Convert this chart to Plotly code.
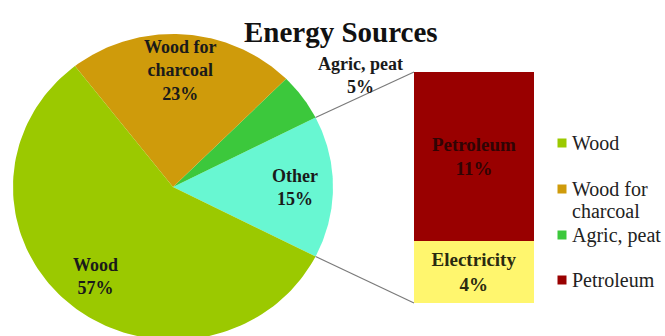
import numpy as np
import plotly.graph_objects as go

# ---------------- data ----------------
pie_labels = ["Other", "Agric, peat", "Wood for charcoal", "Wood"]
pie_text = ["Other", "Agric, peat", "Wood for<br>charcoal", "Wood"]
pie_values = [15, 5, 23, 57]
pie_colors = ["#68F7D2", "#3CC83C", "#CF9B0B", "#9BC900"]

bar_labels = ["Electricity", "Petroleum"]
bar_values = [4, 11]
bar_colors = ["#FFF66E", "#990000"]
bar_text_colors = ["#2a2a10", "#300404"]

legend_labels = ["Wood", "Wood for<br>charcoal", "Agric, peat", "Petroleum"]
legend_colors = ["#9BC900", "#CF9B0B", "#3CC83C", "#990000"]

title_text = "Energy Sources"

# ---------------- layout geometry (pixels) ----------------
W, H = 665, 336
cx, cy = 173, 187          # pie centre
rx, ry = 160, 153          # pie radii (stretched pie)
bx0, bx1 = 414, 534        # bar box left / right
by_top, by_bot = 72, 303   # bar box top / bottom
FONT = "'Liberation Serif', 'DejaVu Serif', serif"

fig = go.Figure()

# ---- pie wedges, computed from the values ----
total = float(sum(pie_values))
start = -pie_values[0] / total * 180.0
angles = [start]
for v in pie_values:
    angles.append(angles[-1] + v / total * 360.0)

def ell(a_deg, r=1.0):
    a = np.radians(a_deg)
    return cx + r * rx * np.cos(a), cy - r * ry * np.sin(a)

for i, (lab, v, col) in enumerate(zip(pie_labels, pie_values, pie_colors)):
    t = np.linspace(angles[i], angles[i + 1], 120)
    px, py = ell(t)
    xs = np.concatenate([[cx], px, [cx]])
    ys = np.concatenate([[cy], py, [cy]])
    fig.add_trace(go.Scatter(x=xs, y=ys, mode="lines", fill="toself",
                             fillcolor=col, line=dict(width=0, color=col),
                             name=lab, showlegend=False, hoverinfo="skip",
                             xaxis="x", yaxis="y"))

# ---- connector lines from "Other" slice edges to bar corners ----
p_top = ell(angles[1])
p_bot = ell(angles[0])
fig.add_trace(go.Scatter(x=[p_top[0], bx0], y=[p_top[1], by_top], mode="lines",
                         line=dict(color="#7a7a7a", width=1.2), showlegend=False,
                         hoverinfo="skip"))
fig.add_trace(go.Scatter(x=[p_bot[0], bx0], y=[p_bot[1], by_bot], mode="lines",
                         line=dict(color="#7a7a7a", width=1.2), showlegend=False,
                         hoverinfo="skip"))

# ---- stacked bar (breakdown of "Other") ----
for lab, v, col, tc in zip(bar_labels, bar_values, bar_colors, bar_text_colors):
    fig.add_trace(go.Bar(x=[0], y=[v], width=1, marker=dict(color=col, line=dict(width=0)),
                         text=[f"<b>{lab}</b><br><b>{v}%</b>"], textposition="inside",
                         insidetextanchor="middle", textangle=0,
                         textfont=dict(family=FONT, size=19, color=tc),
                         constraintext="none",
                         showlegend=False, hoverinfo="skip", xaxis="x2", yaxis="y2"))

annotations = []
# ---- pie data labels ----
for i, (txt, v) in enumerate(zip(pie_text, pie_values)):
    mid = (angles[i] + angles[i + 1]) / 2
    if pie_labels[i] == "Agric, peat":
        lx, ly = ell(32, 1.38)
    else:
        lx, ly = ell(mid, 0.76)
    lines = txt.split("<br>") + [f"{v}%"]
    annotations.append(dict(x=lx, y=ly, xref="x", yref="y", showarrow=False,
                            text="<br>".join(f"<b>{s}</b>" for s in lines), align="center",
                            font=dict(family=FONT, size=18, color="#1a1a1a"),
                            xanchor="center", yanchor="middle"))

# ---- title ----
annotations.append(dict(x=341, y=32, xref="x", yref="y", showarrow=False,
                        text=f"<b>{title_text}</b>",
                        font=dict(family=FONT, size=29, color="#111111"),
                        xanchor="center", yanchor="middle"))

# ---- legend ----
legend_y = [143, 189, 235, 280]
legend_line_gap = 22
shapes = []
for lab, col, ly in zip(legend_labels, legend_colors, legend_y):
    shapes.append(dict(type="rect", xref="x", yref="y", x0=557.5, x1=566.5,
                       y0=ly - 4.5, y1=ly + 4.5, fillcolor=col, line=dict(width=0)))
    for k, part in enumerate(lab.split("<br>")):
        annotations.append(dict(x=570, y=ly + k * legend_line_gap, xref="x", yref="y",
                                showarrow=False, text=part, align="left",
                                font=dict(family=FONT, size=20, color="#222222"),
                                xanchor="left", yanchor="middle"))

fig.update_layout(
    width=W, height=H, margin=dict(l=0, r=0, t=0, b=0),
    paper_bgcolor="white", plot_bgcolor="white",
    font=dict(family=FONT),
    barmode="stack", bargap=0,
    xaxis=dict(range=[0, W], visible=False, domain=[0, 1], fixedrange=True),
    yaxis=dict(range=[H, 0], visible=False, domain=[0, 1], fixedrange=True),
    xaxis2=dict(range=[-0.5, 0.5], visible=False, domain=[bx0 / W, bx1 / W],
                anchor="y2", fixedrange=True),
    yaxis2=dict(range=[0, sum(bar_values)], visible=False,
                domain=[(H - by_bot) / H, (H - by_top) / H], anchor="x2", fixedrange=True),
    annotations=annotations, shapes=shapes, showlegend=False,
)

fig.write_html("out.html")
